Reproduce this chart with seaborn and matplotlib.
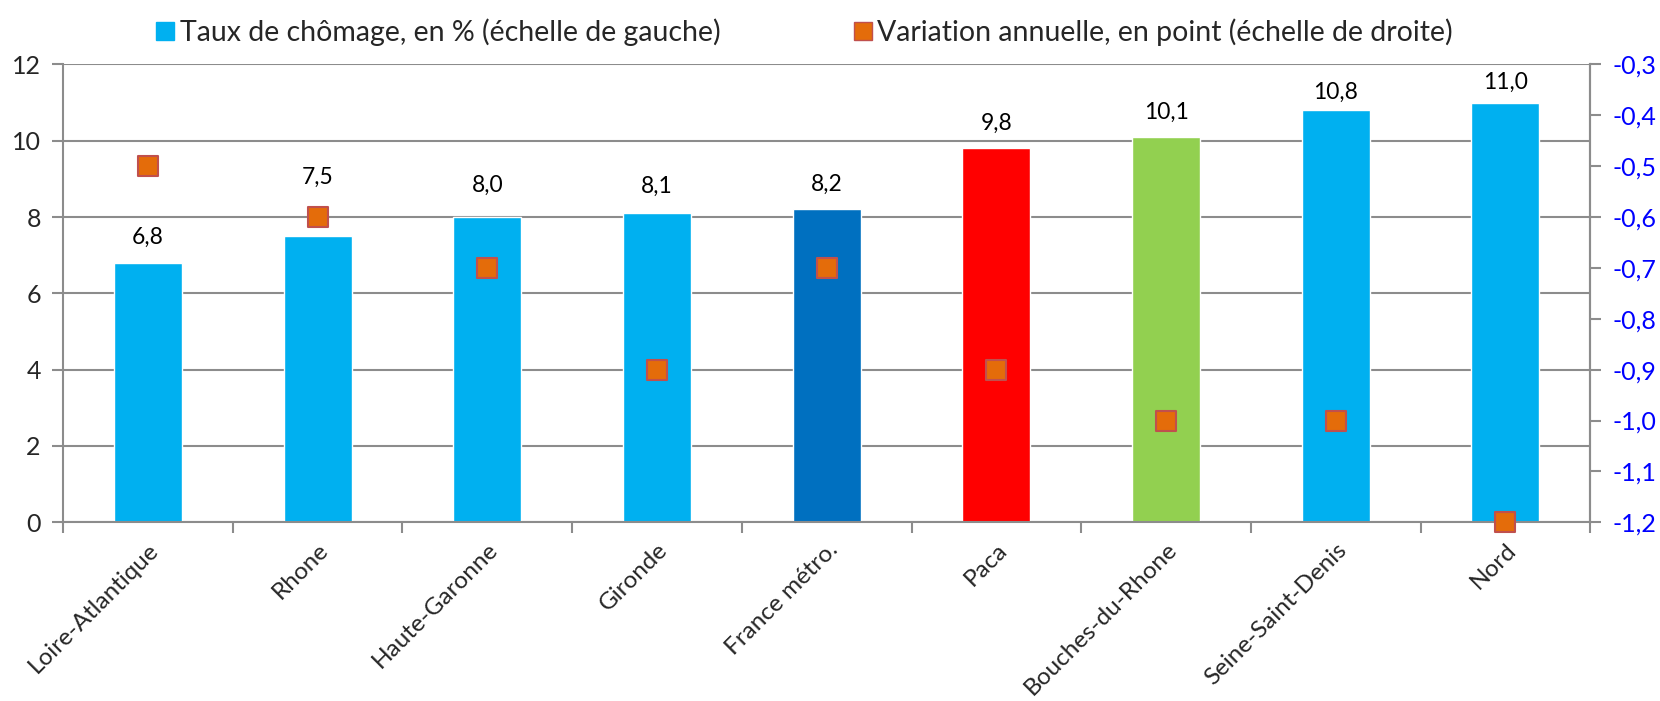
import matplotlib
matplotlib.use('Agg')
import matplotlib.pyplot as plt
from matplotlib.lines import Line2D
from matplotlib.ticker import FixedLocator
import seaborn as sns
import pandas as pd

categories = ['Loire-Atlantique', 'Rhone', 'Haute-Garonne', 'Gironde', 'France métro.',
              'Paca', 'Bouches-du-Rhone', 'Seine-Saint-Denis', 'Nord']
taux = [6.8, 7.5, 8.0, 8.1, 8.2, 9.8, 10.1, 10.8, 11.0]
variation = [-0.5, -0.6, -0.7, -0.9, -0.7, -0.9, -1.0, -1.0, -1.2]
bar_colors = ['#00B0F0', '#00B0F0', '#00B0F0', '#00B0F0', '#0070C0',
              '#FF0000', '#92D050', '#00B0F0', '#00B0F0']
# how far each value label sits above its bar (left-axis units)
label_lift = [0.67, 1.53, 0.83, 0.71, 0.67, 0.66, 0.64, 0.48, 0.52]

df = pd.DataFrame({'Département': categories, 'Taux': taux, 'Variation': variation})

sns.set_style('white')
plt.rcParams['font.family'] = ['Lato', 'DejaVu Sans']

fig = plt.figure(figsize=(16.6, 7.01), dpi=100)
ax = fig.add_axes([0.038, 0.255, 0.920, 0.653])

sns.barplot(data=df, x='Département', y='Taux', hue='Département',
            palette=bar_colors, width=0.4, legend=False, ax=ax, saturation=1)
ax.set_ylim(0, 12)
ax.set_xlim(-0.5, 8.5)
ax.set_yticks(range(0, 13, 2))
ax.yaxis.grid(True, color='#8c8c8c', linewidth=1.5)
ax.set_axisbelow(True)
ax.set_xlabel('')
ax.set_ylabel('')
ax.spines['top'].set_visible(False)
for s in ['left', 'bottom', 'right']:
    ax.spines[s].set_color('#8c8c8c')
    ax.spines[s].set_linewidth(1.5)
ax.tick_params(axis='y', which='major', direction='out', length=8, width=1.5,
               color='#8c8c8c', labelsize=18, pad=8, left=True)

# x ticks between categories
ax.xaxis.set_minor_locator(FixedLocator([i - 0.5 for i in range(len(categories) + 1)]))
ax.tick_params(axis='x', which='minor', direction='out', length=8, width=1.5,
               color='#8c8c8c', bottom=True)
ax.tick_params(axis='x', which='major', length=0, labelsize=17.5, pad=12)
for lbl in ax.get_xticklabels():
    lbl.set_rotation(45)
    lbl.set_ha('right')
    lbl.set_rotation_mode('anchor')

for i, v in enumerate(taux):
    ax.text(i, v + label_lift[i], f'{v:.1f}'.replace('.', ','), ha='center', va='center',
            fontsize=16.5, color='black')

ax2 = ax.twinx()
sns.scatterplot(data=df, x='Département', y='Variation', marker='s', s=190,
                color='#E46C0A', edgecolor='#C0504D', linewidth=1.5, ax=ax2,
                zorder=5, clip_on=False)
ax2.set_ylim(-1.2, -0.3)
ax2.set_yticks([-1.2 + 0.1 * i for i in range(10)])
ax2.set_yticklabels([f'{-1.2 + 0.1 * i:.1f}'.replace('.', ',') for i in range(10)])
ax2.set_ylabel('')
ax2.set_xlabel('')
for s in ['top', 'left', 'bottom']:
    ax2.spines[s].set_visible(False)
ax2.spines['right'].set_color('#8c8c8c')
ax2.spines['right'].set_linewidth(1.5)
ax2.tick_params(axis='y', direction='out', length=8, width=1.5, color='#8c8c8c',
                labelsize=18, labelcolor='#0000FF', pad=8, right=True)

handles = [
    Line2D([0], [0], marker='s', linestyle='none', markersize=13,
           markerfacecolor='#00B0F0', markeredgecolor='#00B0F0'),
    Line2D([0], [0], marker='s', linestyle='none', markersize=13,
           markerfacecolor='#E46C0A', markeredgecolor='#C0504D'),
]
fig.legend(handles, ['Taux de chômage, en % (échelle de gauche)',
                     'Variation annuelle, en point (échelle de droite)'],
           loc='upper center', bbox_to_anchor=(0.483, 1.01), ncol=2, frameon=False,
           fontsize=20.5, columnspacing=4.5, handletextpad=0.0, handlelength=1.0)

fig.savefig('out.png', dpi=100)
plt.close(fig)
